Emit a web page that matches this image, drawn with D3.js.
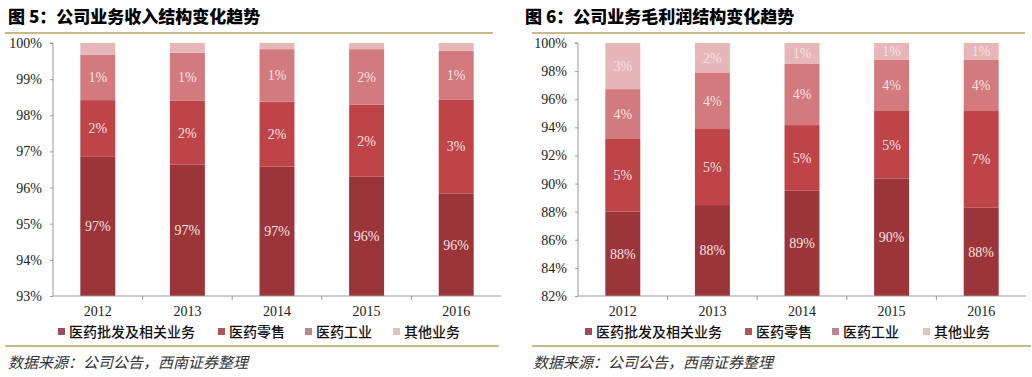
<!DOCTYPE html>
<html><head><meta charset="utf-8">
<script src="https://cdn.jsdelivr.net/npm/d3@7"></script>
<style>
html,body{margin:0;padding:0;background:#fff;}
svg{display:block;}
</style></head>
<body>
<svg id="chart" width="1032" height="377"></svg>
<script>
// ---------- data ----------
const years = ["2012", "2013", "2014", "2015", "2016"];
const seriesNames = ["医药批发及相关业务", "医药零售", "医药工业", "其他业务"];

// 图5 revenue structure (%)
const revWholesale = [96.85, 96.64, 96.58, 96.30, 95.84];
const revRetail    = [1.57, 1.76, 1.80, 1.99, 2.60];
const revIndustry  = [1.25, 1.33, 1.45, 1.54, 1.35];
const revOther     = [0.33, 0.27, 0.17, 0.17, 0.21];
const revTicks = [93, 94, 95, 96, 97, 98, 99, 100];

// 图6 gross profit structure (%)
const gpWholesale = [88.00, 88.47, 89.49, 90.37, 88.28];
const gpRetail    = [5.22, 5.41, 4.67, 4.79, 6.88];
const gpIndustry  = [3.50, 4.03, 4.35, 3.67, 3.67];
const gpOther     = [3.28, 2.09, 1.49, 1.17, 1.17];
const gpTicks = [82, 84, 86, 88, 90, 92, 94, 96, 98, 100];

const titles = ["图 5：公司业务收入结构变化趋势", "图 6：公司业务毛利润结构变化趋势"];
const sourceText = "数据来源：公司公告，西南证券整理";

// ---------- style ----------
const segColors = ["#9c3539", "#bf4448", "#d27a7e", "#e7b6b9"];
const legendColors = ["#9a4f58", "#b0535b", "#b9888e", "#dcc3c6"];
const ruleColor = "#c8b88c";
const cjk = "'Noto Sans CJK SC','Noto Sans',sans-serif";
const serif = "'Liberation Serif','Times New Roman',serif";

const svg = d3.select("#chart");

function drawPanel(opts) {
  const { ox, title, w, r, ind, oth, domain, ticks, legendX } = opts;
  const g = svg.append("g");
  // title
  g.append("text").attr("x", ox + opts.titleX).attr("y", 23)
    .attr("font-family", cjk).attr("font-weight", 900).attr("font-size", 17)
    .attr("fill", "#000").text(title);
  // rules
  g.append("line").attr("x1", ox + opts.ruleX0).attr("x2", ox + opts.ruleX1)
    .attr("y1", 33).attr("y2", 33).attr("stroke", ruleColor).attr("stroke-width", 2);
  g.append("line").attr("x1", ox + opts.ruleX0).attr("x2", ox + opts.ruleX1 + 6)
    .attr("y1", 346).attr("y2", 346).attr("stroke", ruleColor).attr("stroke-width", 2);

  const left = ox + opts.axisX, right = left + 448, top = 43, bottom = 296;
  const x = d3.scaleBand().domain(years).range([left, right])
    .paddingInner(0.61).paddingOuter(0.305);
  const y = d3.scaleLinear().domain(domain).range([bottom, top]).clamp(true);

  const rows = years.map((yr, i) => ({ year: yr, s0: w[i], s1: r[i], s2: ind[i], s3: oth[i] }));
  const stack = d3.stack().keys(["s0", "s1", "s2", "s3"])(rows);

  stack.forEach((layer, li) => {
    g.append("g").selectAll("rect").data(layer).join("rect")
      .attr("x", d => x(d.data.year))
      .attr("width", x.bandwidth())
      .attr("y", d => y(d[1]))
      .attr("height", d => y(d[0]) - y(d[1]))
      .attr("fill", segColors[li]);
    g.append("g").selectAll("text").data(layer.filter(d => y(d[0]) - y(d[1]) > 14)).join("text")
      .attr("x", d => x(d.data.year) + x.bandwidth() / 2)
      .attr("y", d => (y(d[0]) + y(d[1])) / 2)
      .attr("dy", "0.35em")
      .attr("text-anchor", "middle")
      .attr("font-family", serif).attr("font-size", 14)
      .attr("fill", "#f7e2e2")
      .text(d => Math.round(d[1] - d[0]) + "%");
  });

  // y axis
  const ya = g.append("g").attr("transform", `translate(${left},0)`)
    .call(d3.axisLeft(y).tickValues(ticks).tickFormat(d => d + "%").tickSize(3).tickPadding(8));
  ya.select(".domain").attr("stroke", "#999").attr("d", `M-3,${top}H0V${bottom}`);
  ya.selectAll(".tick line").attr("stroke", "#999");
  ya.selectAll("text").attr("font-family", serif).attr("font-size", 14).attr("fill", "#222");

  // x axis
  const xa = g.append("g").attr("transform", `translate(0,${bottom})`)
    .call(d3.axisBottom(x).tickSize(0).tickPadding(10));
  xa.select(".domain").attr("stroke", "#999").attr("d", `M${left},0H${right}`);
  xa.selectAll("text").attr("font-family", serif).attr("font-size", 14).attr("fill", "#222");
  const step = x.step();
  xa.append("g").selectAll("line").data(years.slice(1)).join("line")
    .attr("x1", d => x(d) + x.bandwidth() / 2 - step / 2)
    .attr("x2", d => x(d) + x.bandwidth() / 2 - step / 2)
    .attr("y1", 0).attr("y2", 4).attr("stroke", "#999");

  // legend
  const lg = g.append("g");
  seriesNames.forEach((name, i) => {
    const lx = ox + legendX[i];
    lg.append("rect").attr("x", lx).attr("y", 328).attr("width", 7).attr("height", 7)
      .attr("fill", legendColors[i]);
    lg.append("text").attr("x", lx + 11).attr("y", 332).attr("dy", "0.35em")
      .attr("font-family", cjk).attr("font-size", 14).attr("font-weight", 500)
      .attr("fill", "#111").text(name);
  });

  // source
  g.append("text").attr("x", ox + opts.srcX).attr("y", 368)
    .attr("font-family", cjk).attr("font-size", 15).attr("font-style", "italic")
    .attr("fill", "#333").text(sourceText);
}

drawPanel({
  ox: 0, title: titles[0], titleX: 8, ruleX0: 5, ruleX1: 493, axisX: 53,
  w: revWholesale, r: revRetail, ind: revIndustry, oth: revOther,
  domain: [93, 100], ticks: revTicks, legendX: [58, 218, 305, 393], srcX: 8
});
drawPanel({
  ox: 515, title: titles[1], titleX: 10, ruleX0: 17, ruleX1: 510, axisX: 63,
  w: gpWholesale, r: gpRetail, ind: gpIndustry, oth: gpOther,
  domain: [82, 100], ticks: gpTicks, legendX: [70, 230, 317, 408], srcX: 18
});
</script>
</body></html>
